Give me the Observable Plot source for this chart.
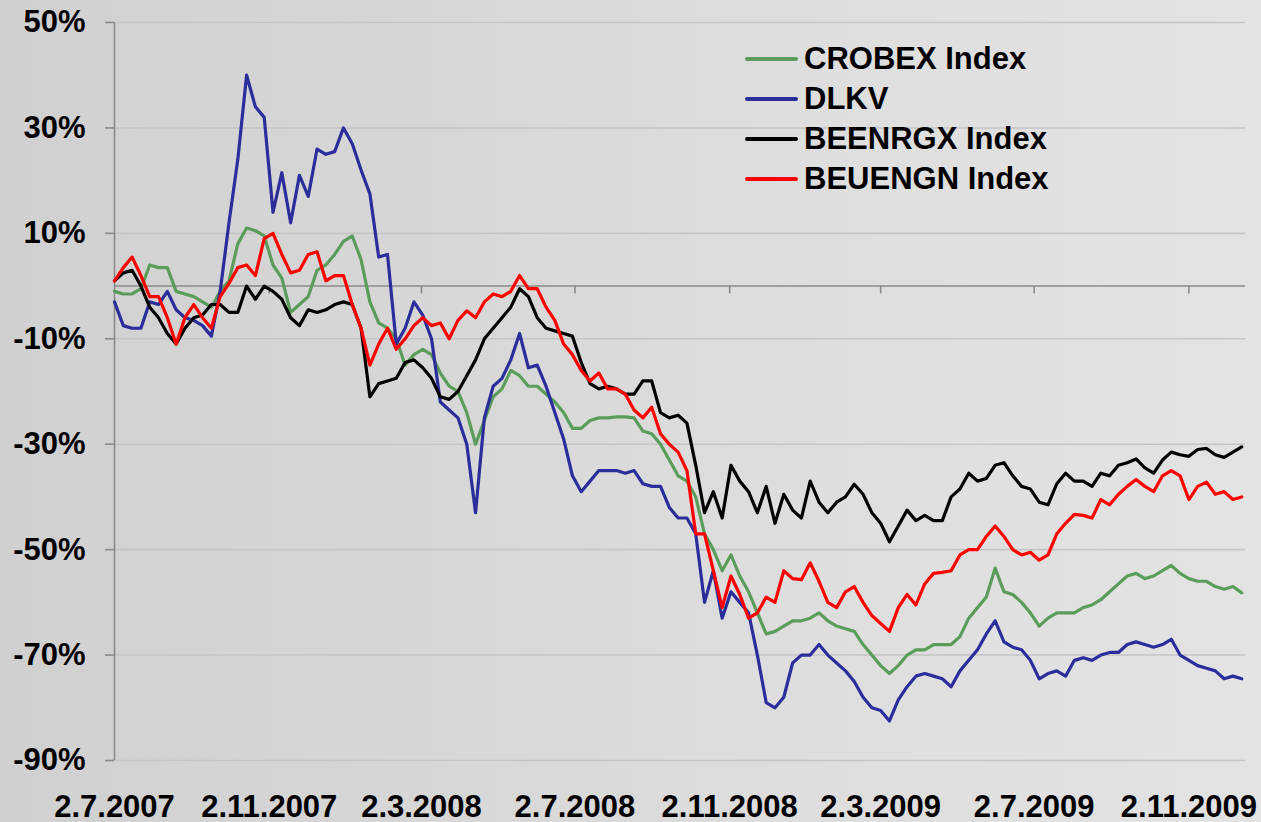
<!DOCTYPE html>
<html>
<head>
<meta charset="utf-8">
<script src="https://cdn.jsdelivr.net/npm/d3@7"></script>
<script src="https://cdn.jsdelivr.net/npm/@observablehq/plot@0.6"></script>
<style>
  html, body { margin: 0; padding: 0; }
  body {
    width: 1261px; height: 822px; overflow: hidden; position: relative;
    background: linear-gradient(to right, #d0d0d0 0%, #d7d7d7 35%, #dedede 65%, #e3e3e3 100%);
    font-family: "Liberation Sans", Arial, sans-serif;
  }
  #chart { position: absolute; left: 0; top: 0; }
  #legend { position: absolute; left: 745px; top: 39px; }
  .row { display: flex; align-items: center; height: 40px; }
  .swatch { width: 53px; height: 4px; margin-right: 6px; border-radius: 2px; }
  .lab { font-size: 31px; font-weight: bold; line-height: 40px; color: #000; white-space: nowrap; }
</style>
</head>
<body>
<div id="chart"></div>
<div id="legend"></div>
<script>
const seriesNames = ["CROBEX Index", "DLKV", "BEENRGX Index", "BEUENGN Index"];
const seriesColors = ["#5a9d5a", "#2b2d9b", "#000000", "#ff0000"];

const crobex = [
  -1, -1.5, -1.5, -0.5, 4, 3.5, 3.5, -1, -1.5, -2,
  -3, -4, -1, 1, 8, 11, 10.5, 9.5, 4, 1.5,
  -5, -3.5, -2, 3, 4, 6, 8.5, 9.5, 5, -3,
  -7, -8, -10, -15, -13, -12, -13, -16.5, -19, -20,
  -24, -30, -25.5, -21, -19.5, -16, -17, -19, -19, -20.5,
  -22, -24, -27, -27, -25.5, -25, -25, -24.8, -24.8, -25,
  -27.5, -28, -30, -33, -36, -37, -40, -47, -50, -54,
  -51, -55, -58, -62, -66, -65.5, -64.5, -63.5, -63.5, -63,
  -62, -63.5, -64.5, -65, -65.5, -68, -70, -72, -73.5, -72,
  -70, -69, -69, -68, -68, -68, -66.5, -63, -61, -59,
  -53.5, -58, -58.5, -60, -62, -64.5, -63, -62, -62, -62,
  -61, -60.5, -59.5, -58, -56.5, -55, -54.5, -55.5, -55, -54,
  -53, -54.5, -55.5, -56, -56, -57, -57.5, -57, -58.2
];
const dlkv = [
  -3, -7.5, -8, -8, -3, -3.5, -1, -4.5, -6, -6.5,
  -7.5, -9.5, -1, 12, 24, 40, 34, 32, 14, 21.5,
  12, 21, 17, 26, 25, 25.5, 30, 27, 22, 17.5,
  5.5, 6, -11, -8, -3, -5.5, -10, -22, -23.5, -25,
  -30, -43, -25, -19, -17.5, -14, -9, -15.5, -15, -19,
  -24, -29, -36, -39, -37, -35, -35, -35, -35.5, -35,
  -37.5, -38, -38, -42, -44, -44, -47, -60, -54, -63,
  -58, -60, -62, -70, -79, -80, -78, -71.5, -70, -70,
  -68, -70, -71.5, -73, -75, -78, -80, -80.5, -82.5, -78.5,
  -76, -74, -73.5, -74, -74.5, -76, -73, -71, -69, -66,
  -63.5, -67.5, -68.5, -69, -71, -74.5, -73.5, -73, -74, -71,
  -70.5, -71, -70, -69.5, -69.5, -68, -67.5, -68, -68.5, -68,
  -67, -70, -71, -72, -72.5, -73, -74.5, -74, -74.5
];
const beenrgx = [
  1, 2.5, 3, 0, -4, -6, -9, -11, -8, -6,
  -5.5, -3.5, -3.5, -5, -5, 0, -2.5, 0, -1, -2.5,
  -6, -7.5, -4.5, -5, -4.5, -3.5, -3, -3.5, -8, -21,
  -18.5, -18, -17.5, -14.5, -14, -15.5, -17.5, -21, -21.5, -20,
  -17, -14, -10, -8, -6, -4, -0.5, -2, -6, -8,
  -8.5, -9, -9.5, -14.5, -18.5, -19.5, -19, -19.5, -20.5, -20.5,
  -18, -18, -24, -25, -24.5, -26, -34, -43, -39, -44,
  -34, -37, -39, -43, -38, -45, -39.5, -42.5, -44, -37,
  -41, -43, -41, -40, -37.6, -39.5, -43, -45, -48.5, -45.5,
  -42.5, -44.5, -43.5, -44.5, -44.5, -40, -38.5, -35.5, -37, -36.5,
  -34, -33.5, -36, -38, -38.5, -41, -41.5, -37.5, -35.5, -37,
  -37, -38, -35.5, -36, -34, -33.5, -32.8, -34.5, -35.5, -33,
  -31.5, -32, -32.3, -31, -30.8, -32, -32.5, -31.5, -30.5
];
const beuengn = [
  1, 3.5, 5.5, 2, -2, -2, -6, -11, -6, -3.5,
  -6, -8, -2, 0.5, 3.5, 4, 2, 9, 10, 6,
  2.5, 3, 6, 6.5, 1, 2, 2, -3.5, -8, -15,
  -11, -8, -12, -10, -7.5, -6, -7.5, -7, -10, -6.5,
  -4.7, -6, -3, -1.5, -2, -1, 2, -0.5, -0.5, -4,
  -6.5, -11, -13, -16, -18, -16.5, -19.5, -19.5, -20.5, -23.5,
  -25, -23, -28, -30, -31.5, -35, -47, -47, -54, -61,
  -55, -58.5, -63, -62, -59, -60, -54, -55.5, -55.7, -52.5,
  -56, -60, -61, -58, -57, -60, -62.5, -64, -65.5, -61,
  -58.5, -60.5, -56.5, -54.5, -54.3, -54, -51, -50, -50, -47.5,
  -45.5, -47.5, -50, -51, -50.5, -52, -51, -47, -45, -43.3,
  -43.5, -44, -40.5, -41.5, -39.5, -38, -36.7, -38, -39, -36,
  -35, -36, -40.5, -38, -37.2, -39.5, -39, -40.5, -40
];

const startDate = new Date(Date.UTC(2007, 6, 2));
const endDate = new Date(Date.UTC(2009, 11, 17));
const xTickLabels = ["2.7.2007", "2.11.2007", "2.3.2008", "2.7.2008", "2.11.2008", "2.3.2009", "2.7.2009", "2.11.2009"];
const yTicks = [50, 30, 10, -10, -30, -50, -70, -90];

const parseDMY = s => { const [d, m, y] = s.split(".").map(Number); return new Date(Date.UTC(y, m - 1, d)); };
const xTicks = xTickLabels.map(parseDMY);
const fmtDate = d => `${d.getUTCDate()}.${d.getUTCMonth() + 1}.${d.getUTCFullYear()}`;

// weekly sampling dates
const dates = d3.range(crobex.length).map(i => d3.utcDay.offset(startDate, 7 * i));
const allValues = [crobex, dlkv, beenrgx, beuengn];
const seriesData = allValues.map((vals, k) => vals.map((v, i) => ({date: dates[i], value: v, name: seriesNames[k]})));

const axisGray = "#8a8a8a";

const chart = Plot.plot({
  width: 1261,
  height: 822,
  marginLeft: 114,
  marginRight: 16,
  marginTop: 22,
  marginBottom: 62,
  style: {background: "transparent", fontFamily: "'Liberation Sans', Arial, sans-serif", fontWeight: "bold", fontSize: "31px", color: "#000", overflow: "visible"},
  x: {type: "utc", domain: [startDate, endDate]},
  y: {domain: [-90, 50]},
  marks: [
    Plot.ruleY(yTicks, {stroke: "#c5c5c5", strokeWidth: 1.6}),
    Plot.ruleY([0], {stroke: axisGray, strokeWidth: 1.6}),
    Plot.ruleX(xTicks.slice(1), {y1: 0, y2: -1.5, stroke: axisGray, strokeWidth: 1.6}),
    Plot.ruleX([startDate], {stroke: axisGray, strokeWidth: 1.6}),
    Plot.axisY({ticks: yTicks, tickSize: 9, tickPadding: 20, tickFormat: d => d + "%", stroke: axisGray, strokeWidth: 1.6, label: null, fontSize: 31}),
    Plot.axisX({ticks: xTicks, tickSize: 0, tickPadding: 34, tickFormat: fmtDate, label: null, fontSize: 31}),
    ...seriesData.map((data, k) => Plot.line(data, {x: "date", y: "value", stroke: seriesColors[k], strokeWidth: 3.2, strokeLinejoin: "round", strokeLinecap: "round"}))
  ]
});
document.getElementById("chart").appendChild(chart);

const legend = document.getElementById("legend");
seriesNames.forEach((name, k) => {
  const row = document.createElement("div");
  row.className = "row";
  const sw = document.createElement("span");
  sw.className = "swatch";
  sw.style.background = seriesColors[k];
  const lab = document.createElement("span");
  lab.className = "lab";
  lab.textContent = name;
  row.appendChild(sw);
  row.appendChild(lab);
  legend.appendChild(row);
});
</script>
</body>
</html>
